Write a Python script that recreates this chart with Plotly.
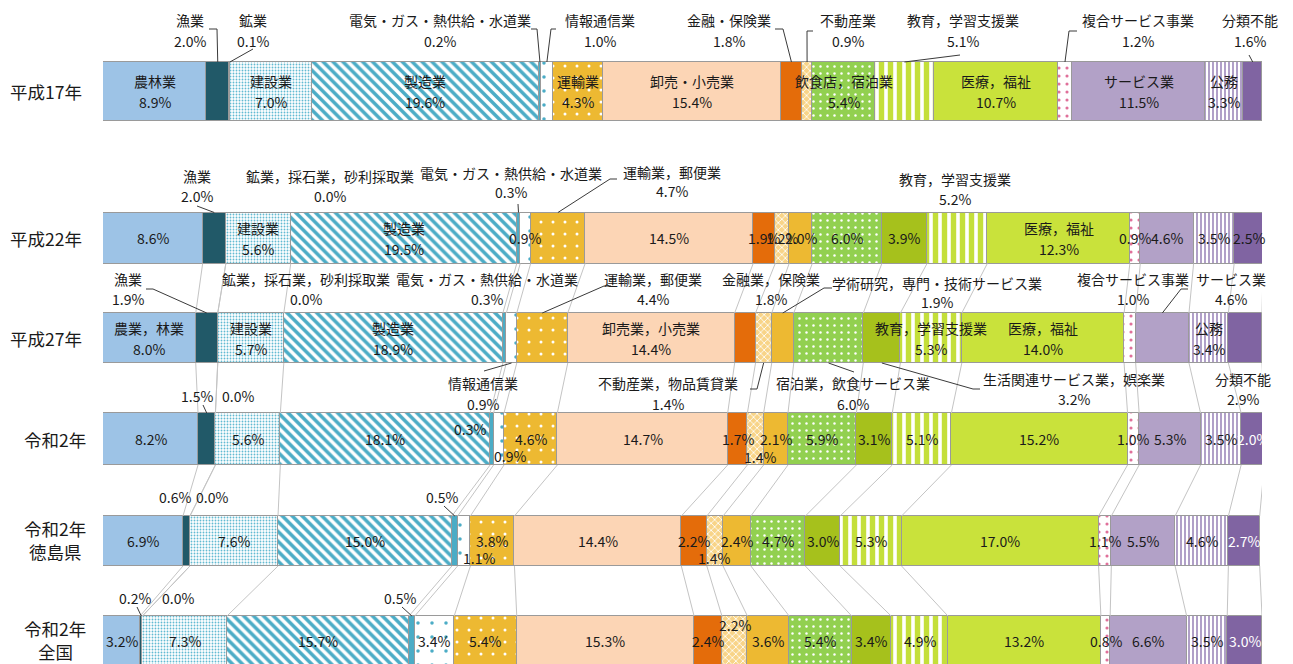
import plotly.graph_objects as go

# ---------------- data ----------------
ROW_LABELS = [["平成17年"], ["平成22年"], ["平成27年"], ["令和2年"], ["令和2年", "徳島県"], ["令和2年", "全国"]]

NAMES = ["農業，林業", "漁業", "鉱業，採石業，砂利採取業", "建設業", "製造業",
         "電気・ガス・熱供給・水道業", "情報通信業", "運輸業，郵便業", "卸売業，小売業",
         "金融業，保険業", "不動産業，物品賃貸業", "学術研究，専門・技術サービス業",
         "宿泊業，飲食サービス業", "生活関連サービス業，娯楽業", "教育，学習支援業",
         "医療，福祉", "複合サービス事業", "サービス業", "公務", "分類不能"]

H17_NAMES = ["農林業", "漁業", "鉱業", "建設業", "製造業", "電気・ガス・熱供給・水道業",
             "情報通信業", "運輸業", "卸売・小売業", "金融・保険業", "不動産業", "",
             "飲食店，宿泊業", "", "教育，学習支援業", "医療，福祉", "複合サービス事業",
             "サービス業", "公務", "分類不能"]

H17 = [8.9, 2.0, 0.1, 7.0, 19.6, 0.2, 1.0, 4.3, 15.4, 1.8, 0.9, 0.0, 5.4, 0.0, 5.1, 10.7, 1.2, 11.5, 3.3, 1.6]
H22 = [8.6, 2.0, 0.0, 5.6, 19.5, 0.3, 0.9, 4.7, 14.5, 1.9, 1.2, 2.0, 6.0, 3.9, 5.2, 12.3, 0.9, 4.6, 3.5, 2.5]
H27 = [8.0, 1.9, 0.0, 5.7, 18.9, 0.3, 0.9, 4.4, 14.4, 1.8, 1.4, 1.9, 6.0, 3.2, 5.3, 14.0, 1.0, 4.6, 3.4, 2.9]
R2 = [8.2, 1.5, 0.0, 5.6, 18.1, 0.3, 0.9, 4.6, 14.7, 1.7, 1.4, 2.1, 5.9, 3.1, 5.1, 15.2, 1.0, 5.3, 3.5, 2.0]
R2_TOKUSHIMA = [6.9, 0.6, 0.0, 7.6, 15.0, 0.5, 1.1, 3.8, 14.4, 2.2, 1.4, 2.4, 4.7, 3.0, 5.3, 17.0, 1.1, 5.5, 4.6, 2.7]
R2_ZENKOKU = [3.2, 0.2, 0.0, 7.3, 15.7, 0.5, 3.4, 5.4, 15.3, 2.4, 2.2, 3.6, 5.4, 3.4, 4.9, 13.2, 0.8, 6.6, 3.5, 3.0]

ROWS = [H17, H22, H27, R2, R2_TOKUSHIMA, R2_ZENKOKU]

# ---------------- layout geometry ----------------
W, H = 1293, 664
X0_PX, X1_PX = 103, 1262
ROW_Y = [91.5, 238, 338, 439, 541, 641]
ROW_H = [59, 51, 50, 52, 50, 50]
FONT = "Noto Sans CJK JP, Noto Sans, sans-serif"
TXT = "#1a1a1a"


def px2x(px):
    return (px - X0_PX) / (X1_PX - X0_PX) * 100.0


STYLES = [
    dict(color="#9DC3E6"),
    dict(color="#215968"),
    dict(color="#31859C"),
    dict(shape=".", bg="#FFFFFF", fg="#62BAD2", size=3, sol=0.3),
    dict(shape="\\", bg="#FFFFFF", fg="#4BACC6", size=7, sol=0.5),
    dict(color="#4BACC6"),
    dict(shape=".", bg="#FFFFFF", fg="#4BACC6", size=14, sol=0.05),
    dict(shape=".", bg="#EDB932", fg="#FFFFFF", size=12, sol=0.05),
    dict(color="#FCD5B5"),
    dict(color="#E46C0A"),
    dict(shape="x", bg="#F8D488", fg="#FFFFFF", size=5, sol=0.3),
    dict(color="#EDB932"),
    dict(shape=".", bg="#92D050", fg="#FFFFFF", size=7, sol=0.1),
    dict(color="#A6C11C"),
    dict(shape="|", bg="#FFFFFF", fg="#C4DF3A", size=9, sol=0.6),
    dict(color="#C9E23B"),
    dict(shape=".", bg="#FFFFFF", fg="#E0709A", size=8, sol=0.12),
    dict(color="#B2A1C7"),
    dict(shape="|", bg="#FFFFFF", fg="#A895C2", size=4, sol=0.45),
    dict(color="#8064A2"),
]

fig = go.Figure()

# cumulative positions
CUM = []
for vals in ROWS:
    c = [0.0]
    for v in vals:
        c.append(c[-1] + v)
    CUM.append(c)


def seg_center(r, k):
    return CUM[r][k] + ROWS[r][k] / 2.0


# series lines (between rows 2..6)
sx, sy = [], []
for r in range(1, len(ROWS) - 1):
    bot = ROW_Y[r] + ROW_H[r] / 2
    top = ROW_Y[r + 1] - ROW_H[r + 1] / 2
    for k in range(1, len(NAMES) + 1):
        sx += [CUM[r][k], CUM[r + 1][k], None]
        sy += [bot, top, None]
fig.add_trace(go.Scatter(x=sx, y=sy, mode="lines", line=dict(color="#C4C4C4", width=1),
                         hoverinfo="skip", showlegend=False))

# bars
for i, name in enumerate(NAMES):
    st = STYLES[i]
    vals = [row[i] for row in ROWS]
    if "shape" in st:
        marker = dict(color=st["bg"],
                      pattern=dict(shape=st["shape"], bgcolor=st["bg"], fgcolor=st["fg"],
                                   size=st["size"], solidity=st["sol"], fillmode="replace"),
                      line=dict(color="#9A9A9A", width=1.5))
    else:
        marker = dict(color=st["color"], line=dict(color="#9A9A9A", width=1.5))
    fig.add_trace(go.Bar(x=vals, y=ROW_Y, width=ROW_H, orientation="h", name=name,
                         marker=marker, hoverinfo="skip", showlegend=False))


def text(xv, yp, t, size=14, color=TXT):
    fig.add_annotation(x=xv, y=yp, xref="x", yref="y", text=t, showarrow=False,
                       font=dict(family=FONT, size=size, color=color),
                       xanchor="center", yanchor="middle")


def fmt(v):
    return f"{v:.1f}%"


# ---- inside labels: (row, seg, with_name)
INSIDE = {
    0: [(0, 1), (3, 1), (4, 1), (7, 1), (8, 1), (12, 1), (15, 1), (17, 1), (18, 1)],
    1: [(0, 0), (3, 1), (4, 1), (6, 0), (8, 0), (9, 0), (10, 0), (11, 0), (12, 0), (13, 0),
        (15, 1), (16, 0), (17, 0), (18, 0), (19, 0)],
    2: [(0, 1), (3, 1), (4, 1), (8, 1), (14, 1), (15, 1), (18, 1)],
    3: [(k, 0) for k in (0, 3, 4, 7, 8, 9, 11, 12, 13, 14, 15, 16, 17, 18, 19)],
    4: [(k, 0) for k in (0, 3, 4, 7, 8, 9, 11, 12, 13, 14, 15, 16, 17, 18, 19)],
    5: [(k, 0) for k in (0, 3, 4, 6, 7, 8, 9, 11, 12, 13, 14, 15, 16, 17, 18, 19)],
}
for r, items in INSIDE.items():
    names = H17_NAMES if r == 0 else NAMES
    yc = ROW_Y[r]
    for k, wn in items:
        xc = seg_center(r, k)
        col = "#FFFFFF" if (k == 19 and r >= 3) else TXT
        if wn:
            text(xc, yc - 10.5, names[k])
            text(xc, yc + 10.5, fmt(ROWS[r][k]), color=col)
        else:
            text(xc, yc, fmt(ROWS[r][k]), color=col)

# value-only labels shifted off-centre: (row, seg, x_px, y_px)
SHIFTED = [(3, 5, 470, 429), (3, 6, 510, 456), (3, 10, 760, 457),
           (4, 6, 479, 558), (4, 10, 714, 558), (5, 10, 735, 625)]
for r, k, xp, yp in SHIFTED:
    text(px2x(xp), yp, fmt(ROWS[r][k]))

# ---- outside labels: (row, seg, show_name, x_px, y_name, y_value, leader_pts_px, side)
OUTSIDE = [
    (0, 1, 1, 190, 20, 41, [(209, 29), (217, 29)], "top"),
    (0, 2, 1, 253, 20, 41, [(253, 49)], "top"),
    (0, 5, 1, 440, 20, 41, [(531, 29), (537, 29)], "top"),
    (0, 6, 1, 600, 20, 41, [(556, 29), (551, 29)], "top"),
    (0, 9, 1, 729, 20, 41, [(775, 29), (783, 29)], "top"),
    (0, 10, 1, 848, 20, 41, [(813, 31), (807, 31)], "top"),
    (0, 14, 1, 963, 20, 41, [(960, 55)], "top"),
    (0, 16, 1, 1138, 20, 41, [(1077, 31), (1069, 31)], "top"),
    (0, 19, 1, 1250, 20, 41, [(1249, 55)], "top"),
    (1, 1, 1, 197, 176, 196, [(197, 206)], "top"),
    (1, 2, 1, 330, 176, 196, None, "top"),
    (1, 5, 1, 511, 173, 192, [(518, 204)], "top"),
    (1, 7, 1, 672, 172, 191, [(617, 179), (610, 179)], "top"),
    (1, 14, 1, 955, 179, 199, None, "top"),
    (2, 1, 1, 128, 279, 299, [(146, 289), (153, 289)], "top"),
    (2, 2, 1, 306, 279, 299, None, "top"),
    (2, 5, 1, 487, 279, 299, None, "top"),
    (2, 7, 1, 653, 279, 299, [(611, 286), (604, 286)], "top"),
    (2, 9, 1, 771, 279, 299, None, "top"),
    (2, 11, 1, 937, 283, 302, [(832, 288), (824, 288)], "top"),
    (2, 16, 1, 1133, 279, 299, None, "top"),
    (2, 17, 1, 1231, 279, 299, [(1188, 289), (1181, 289)], "top"),
    (2, 6, 1, 483, 383, 404, [(484, 371)], "bottom"),
    (2, 10, 1, 668, 383, 404, [(750, 389), (757, 389)], "bottom"),
    (2, 12, 1, 853, 383, 404, [(854, 372)], "bottom"),
    (2, 13, 1, 1074, 379, 399, [(980, 389), (973, 389)], "bottom"),
    (2, 19, 1, 1243, 379, 399, None, "bottom"),
    (3, 1, 0, 197, None, 396, [(203, 405)], "top"),
    (3, 2, 0, 238, None, 396, None, "top"),
    (4, 1, 0, 175, None, 497, None, "top"),
    (4, 2, 0, 212, None, 497, None, "top"),
    (4, 5, 0, 442, None, 497, [(444, 506)], "top"),
    (5, 1, 0, 135, None, 598, [(137, 607)], "top"),
    (5, 2, 0, 178, None, 598, None, "top"),
    (5, 5, 0, 400, None, 598, [(402, 607)], "top"),
]

lx, ly = [], []
for r, k, wn, xp, yn, yv, pts, side in OUTSIDE:
    names = H17_NAMES if r == 0 else NAMES
    if wn:
        text(px2x(xp), yn, names[k])
    text(px2x(xp), yv, fmt(ROWS[r][k]))
    if pts:
        edge = ROW_Y[r] - ROW_H[r] / 2 if side == "top" else ROW_Y[r] + ROW_H[r] / 2
        for (px, py) in pts:
            lx.append(px2x(px))
            ly.append(py)
        lx += [seg_center(r, k), None]
        ly += [edge, None]
fig.add_trace(go.Scatter(x=lx, y=ly, mode="lines", line=dict(color="#3a3a3a", width=1),
                         hoverinfo="skip", showlegend=False))

# row labels (paper x, since they sit left of the plotting area); one annotation per line
ROW_LABEL_X = [46, 46, 46, 55, 55, 55]
LINE_GAP = 23
for r, lines in enumerate(ROW_LABELS):
    n = len(lines)
    for j, ln in enumerate(lines):
        yp = ROW_Y[r] + (j - (n - 1) / 2) * LINE_GAP - (1 if n > 1 else 0)
        fig.add_annotation(x=(ROW_LABEL_X[r] - X0_PX) / (X1_PX - X0_PX), y=yp,
                           xref="paper", yref="y", text=ln, showarrow=False,
                           font=dict(family=FONT, size=17.5, color=TXT), borderpad=0,
                           xanchor="center", yanchor="middle")

fig.update_layout(
    width=W, height=H, autosize=False,
    margin=dict(l=X0_PX, r=W - X1_PX, t=0, b=0, pad=0),
    barmode="stack", bargap=0,
    paper_bgcolor="#FFFFFF", plot_bgcolor="#FFFFFF",
    xaxis=dict(range=[0, 100], visible=False, fixedrange=True),
    yaxis=dict(range=[H, 0], visible=False, fixedrange=True),
    showlegend=False,
)

fig.write_html("out.html", config={"displayModeBar": False})
